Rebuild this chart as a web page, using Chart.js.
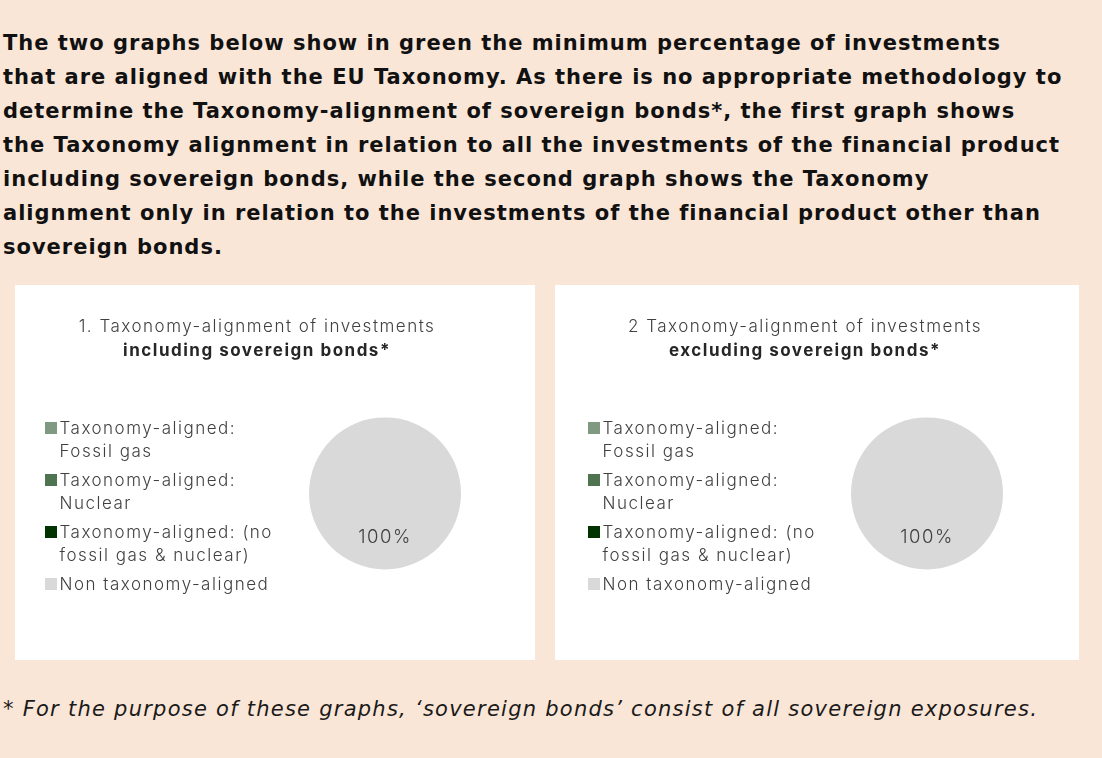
<!DOCTYPE html>
<html><head><meta charset="utf-8">
<script src="https://cdn.jsdelivr.net/npm/chart.js@4.4.1/dist/chart.umd.min.js"></script>
<style>
  html, body { margin: 0; padding: 0; }
  body { width: 1102px; height: 758px; background: #fae6d7; position: relative; overflow: hidden; }
  #header { position: absolute; left: 3px; top: 26px; width: 1099px;
    font-family: "DejaVu Sans", sans-serif; font-weight: bold; font-size: 21px;
    letter-spacing: 1px; line-height: 34px; color: #111; white-space: nowrap; }
  .panel { position: absolute; top: 285px; height: 375px; background: #fff; }
  #p1 { left: 15px; width: 520px; }
  #p2 { left: 555px; width: 524px; }
  #footer { position: absolute; left: 3px; top: 694px; font-family: "DejaVu Sans", sans-serif;
    font-style: italic; font-size: 21px; letter-spacing: 1.25px; line-height: 30px; color: #1a1a1a; white-space: nowrap; }
</style>
</head><body>
<div id="header">The two graphs below show in green the minimum percentage of investments<br>that are aligned with the EU Taxonomy. As there is no appropriate methodology to<br>determine the Taxonomy-alignment of sovereign bonds*, the first graph shows<br>the Taxonomy alignment in relation to all the investments of the financial product<br>including sovereign bonds, while the second graph shows the Taxonomy<br>alignment only in relation to the investments of the financial product other than<br>sovereign bonds.</div>
<div class="panel" id="p1"><canvas id="c1" width="520" height="375"></canvas></div>
<div class="panel" id="p2"><canvas id="c2" width="524" height="375"></canvas></div>
<div id="footer">* For the purpose of these graphs, ‘sovereign bonds’ consist of all sovereign exposures.</div>
<script>
// ---- data ----
const categories = [
  ["Taxonomy-aligned:", "Fossil gas"],
  ["Taxonomy-aligned:", "Nuclear"],
  ["Taxonomy-aligned: (no", "fossil gas & nuclear)"],
  "Non taxonomy-aligned"
];
const includingSovereignValues = [0, 0, 0, 100];
const excludingSovereignValues = [0, 0, 0, 100];
const chart1Title = "1. Taxonomy-alignment of investments";
const chart1Subtitle = "including sovereign bonds*";
const chart2Title = "2 Taxonomy-alignment of investments";
const chart2Subtitle = "excluding sovereign bonds*";

// ---- styles ----
const sliceColors = ["#7f9a80", "#4e7452", "#003300", "#d9d9d9"];
const FONT = "Inter";
Chart.defaults.font.family = FONT;
Chart.defaults.color = "#404040";

// legend swatch: 12px square drawn in the right half of a 24px-wide image,
// so the square sits close to its label text
function makeSwatch(color) {
  const c = document.createElement("canvas");
  c.width = 24; c.height = 12;
  const x = c.getContext("2d");
  x.fillStyle = color;
  x.fillRect(12, 0, 12, 12);
  return c;
}

const spacingPlugin = {
  id: "spacing",
  beforeInit(chart) { chart.ctx.letterSpacing = "1.5px"; },
  beforeUpdate(chart) { chart.ctx.letterSpacing = "1.5px"; },
  beforeLayout(chart) { chart.ctx.letterSpacing = "1.5px"; },
  beforeDraw(chart) { chart.ctx.letterSpacing = "1.5px"; }
};

const valueLabelPlugin = {
  id: "valueLabel",
  afterDatasetsDraw(chart) {
    const ctx = chart.ctx;
    const meta = chart.getDatasetMeta(0);
    const data = chart.data.datasets[0].data;
    const total = data.reduce((a, b) => a + b, 0);
    ctx.save();
    ctx.font = "300 18.5px " + FONT;
    ctx.fillStyle = "#404040";
    ctx.textAlign = "center";
    ctx.textBaseline = "middle";
    meta.data.forEach((arc, i) => {
      if (!data[i]) return;
      const p = arc.getProps(["x", "y", "startAngle", "endAngle", "outerRadius"], true);
      const mid = (p.startAngle + p.endAngle) / 2;
      const r = p.outerRadius * 0.58;
      const pct = Math.round(data[i] / total * 100) + "%";
      ctx.fillText(pct, p.x + Math.cos(mid) * r, p.y + Math.sin(mid) * r);
    });
    ctx.restore();
  }
};

const baseGenerateLabels = Chart.DoughnutController.overrides.plugins.legend.labels.generateLabels;

function makeChart(id, values, title, subtitle, padLeft, padRight, legendWidth) {
  const chart = new Chart(document.getElementById(id), {
    type: "pie",
    data: {
      labels: categories,
      datasets: [{
        data: values,
        backgroundColor: sliceColors,
        borderWidth: 0,
        radius: 76
      }]
    },
    options: {
      responsive: false,
      animation: false,
      events: [],
      devicePixelRatio: 1,
      layout: { padding: { left: padLeft, right: padRight, top: 0, bottom: 49 } },
      plugins: {
        title: {
          display: true, text: title, color: "#404040",
          font: { family: FONT, size: 17, weight: "300", lineHeight: 1.2 },
          padding: { top: 32, bottom: 1 }
        },
        subtitle: {
          display: true, text: subtitle, color: "#262626",
          font: { family: FONT, size: 17, weight: "bold", lineHeight: 1.2 },
          padding: { top: 2, bottom: 15 }
        },
        legend: {
          position: "left",
          align: "center",
          fullSize: false,
          title: { display: true, text: " ", font: { size: 10, lineHeight: 1 }, padding: { top: 8, bottom: 8 } },
          labels: {
            usePointStyle: true, pointStyleWidth: 12, boxWidth: 12, boxHeight: 12,
            padding: 6, color: "#404040",
            font: { family: FONT, size: 17, weight: "300", lineHeight: 23 / 17 },
            generateLabels(ch) {
              return baseGenerateLabels(ch).map(item => Object.assign(item, { pointStyle: makeSwatch(item.fillStyle) }));
            }
          }
        },
        tooltip: { enabled: false }
      }
    },
    plugins: [spacingPlugin, valueLabelPlugin]
  });
  // keep the legend column at a fixed width so the pie sits where it does in the original
  const lg = chart.legend;
  const origFit = lg.fit;
  lg.fit = function () { origFit.call(this); this.width = legendWidth; };
  chart.update();
  return chart;
}

makeChart("c1", includingSovereignValues, chart1Title, chart1Subtitle, 18, 54, 256);
makeChart("c2", excludingSovereignValues, chart2Title, chart2Subtitle, 21, 45, 244);
</script></body></html>
